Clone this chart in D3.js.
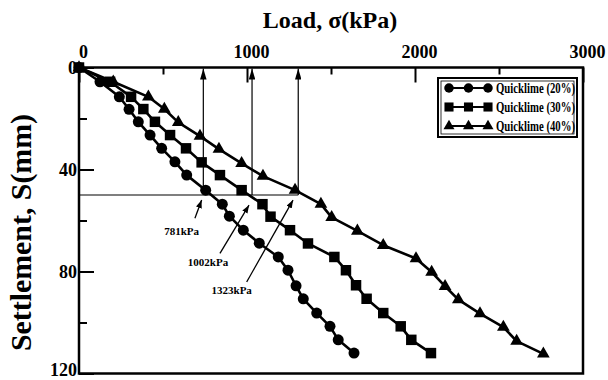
<!DOCTYPE html>
<html><head><meta charset="utf-8">
<script src="https://cdn.jsdelivr.net/npm/d3@7"></script>
<style>
html,body{margin:0;padding:0;background:#fff;}
svg text{font-family:"Liberation Serif","Times New Roman",serif;font-weight:bold;fill:#000;}
</style></head>
<body><svg id="c" width="608" height="380"></svg>
<script>
// ---- data ----
const seriesNames = ["Quicklime (20%)", "Quicklime (30%)", "Quicklime (40%)"];
const load20 = [0,125,240,298,353,423,492,571,641,754,853,895,978,1073,1186,1244,1292,1335,1415,1494,1543,1637];
const settle20 = [0,5.6,11.5,16.4,21.3,26.5,31.7,37.0,42.2,48.1,53.6,58.3,63.8,68.9,74.3,79.5,85.6,90.7,96.3,101.5,106.8,112.0];
const load30 = [0,185,310,383,452,542,637,730,839,968,1092,1140,1256,1363,1520,1589,1649,1712,1811,1915,1978,2095];
const settle30 = [0,5.6,11.5,16.3,21.3,26.5,31.7,37.2,42.2,48.1,53.6,58.5,63.8,69.0,74.3,79.5,85.4,90.7,96.3,101.5,106.8,112.0];
const load40 = [0,204,413,508,591,720,833,968,1095,1286,1440,1504,1657,1811,2006,2099,2179,2258,2387,2526,2605,2764];
const settle40 = [0,5.6,11.5,16.3,21.5,26.9,32.0,37.6,42.6,48.1,53.6,58.8,64.1,69.7,74.9,80.2,85.8,91.0,96.5,101.8,107.3,112.3];
const xMajorTicks = [0,1000,2000,3000];
const xMinorTicks = [500,1500,2500];
const yMajorTicks = [0,40,80,120];
const yMinorTicks = [20,60,100];
// reference lines at S = 50 mm
const refSettlement = 50;
const refLoads = [740, 1030, 1305];
const refLabels = ["781kPa", "1002kPa", "1323kPa"];
const refLabelPos = [[611,64.2],[768,76.3],[909,87.4]];
const refArrowTail = [[690,59.1],[839,72.9],[998,84.1]];
const refArrowTip = [[730,52.0],[1012,54.0],[1274,52.0]];

// ---- layout ----
const svg = d3.select("#c");
const x = d3.scaleLinear().domain([0,3000]).range([79,583]);
const y = d3.scaleLinear().domain([0,120]).range([67.5,373.5]);

// arrow markers
const defs = svg.append("defs");
defs.append("marker").attr("id","ah").attr("viewBox","0 0 10 10").attr("refX",10).attr("refY",5)
  .attr("markerWidth",8).attr("markerHeight",6).attr("orient","auto").attr("markerUnits","userSpaceOnUse")
  .attr("preserveAspectRatio","none")
  .append("path").attr("d","M0,0 L10,5 L0,10 Z").attr("fill","#000");
defs.append("marker").attr("id","ahBig").attr("viewBox","0 0 10 10").attr("refX",10).attr("refY",5)
  .attr("markerWidth",11).attr("markerHeight",6.5).attr("orient","auto").attr("markerUnits","userSpaceOnUse")
  .attr("preserveAspectRatio","none")
  .append("path").attr("d","M0,0 L10,5 L0,10 Z").attr("fill","#000");

// axes
const gTop = svg.append("g").attr("transform",`translate(0,${y(0)})`)
  .call(d3.axisTop(x).tickValues(xMajorTicks).tickSizeInner(-15).tickSizeOuter(0).tickPadding(10).tickFormat(d3.format("d")));
gTop.selectAll("text").attr("font-size",18).attr("dx",4);
gTop.select(".domain").remove();
const gTopMinor = svg.append("g").attr("transform",`translate(0,${y(0)})`)
  .call(d3.axisTop(x).tickValues(xMinorTicks).tickSizeInner(-7).tickSizeOuter(0).tickFormat(""));
gTopMinor.select(".domain").remove();

const gLeft = svg.append("g").attr("transform",`translate(${x(0)},0)`)
  .call(d3.axisLeft(y).tickValues(yMajorTicks).tickSizeInner(-15).tickSizeOuter(0).tickPadding(2));
gLeft.selectAll("text").attr("font-size",18).attr("dy",d => d === 120 ? "0.12em" : "0.32em");
gLeft.select(".domain").remove();
const gLeftMinor = svg.append("g").attr("transform",`translate(${x(0)},0)`)
  .call(d3.axisLeft(y).tickValues(yMinorTicks).tickSizeInner(-8).tickSizeOuter(0).tickFormat(""));
gLeftMinor.select(".domain").remove();
svg.selectAll(".tick line").attr("stroke","#000").attr("stroke-width",2);

// frame
svg.append("rect").attr("x",x(0)).attr("y",y(0)).attr("width",x(3000)-x(0)).attr("height",y(120)-y(0))
  .attr("fill","none").attr("stroke","#000").attr("stroke-width",2.5);

// titles
svg.append("text").attr("x",330).attr("y",28).attr("text-anchor","middle").attr("font-size",24).text("Load, σ(kPa)");
svg.append("text").attr("transform",`translate(31,${(y(0)+y(120))/2 + 12}) rotate(-90)`).attr("text-anchor","middle")
  .attr("font-size",29).attr("textLength",237).attr("lengthAdjust","spacingAndGlyphs").text("Settlement, S(mm)");

// reference lines
svg.append("line").attr("x1",x(0)).attr("x2",x(refLoads[2])).attr("y1",y(refSettlement)).attr("y2",y(refSettlement))
  .attr("stroke","#000").attr("stroke-width",1.2);
refLoads.forEach(L => {
  svg.append("line").attr("x1",x(L)).attr("x2",x(L)).attr("y1",y(refSettlement)).attr("y2",y(0)+1)
    .attr("stroke","#000").attr("stroke-width",1.2).attr("marker-end","url(#ahBig)");
});
refLabels.forEach((t,i) => {
  svg.append("text").attr("x",x(refLabelPos[i][0])).attr("y",y(refLabelPos[i][1])).attr("dy","0.35em")
    .attr("text-anchor","middle").attr("font-size",11).text(t);
  svg.append("line").attr("x1",x(refArrowTail[i][0])).attr("y1",y(refArrowTail[i][1]))
    .attr("x2",x(refArrowTip[i][0])).attr("y2",y(refArrowTip[i][1]))
    .attr("stroke","#000").attr("stroke-width",1.3).attr("marker-end","url(#ah)");
});

// series
const series = [
  {name:seriesNames[0], L:load20, S:settle20, sym:d3.symbolCircle, size:95},
  {name:seriesNames[1], L:load30, S:settle30, sym:d3.symbolSquare, size:110},
  {name:seriesNames[2], L:load40, S:settle40, sym:d3.symbolTriangle, size:70},
];
const line = d3.line().x(d=>x(d[0])).y(d=>y(d[1])).curve(d3.curveLinear);
series.forEach(s => {
  const pts = s.L.map((v,i)=>[v,s.S[i]]);
  svg.append("path").datum(pts).attr("d",line).attr("fill","none").attr("stroke","#000").attr("stroke-width",2.6)
    .attr("stroke-linejoin","round");
  svg.append("g").selectAll("path").data(pts).join("path")
    .attr("transform",d=>`translate(${x(d[0])},${y(d[1])})`)
    .attr("d",d3.symbol().type(s.sym).size(s.size)).attr("fill","#000");
});

// legend
const lg = svg.append("g");
lg.append("rect").attr("x",438).attr("y",78).attr("width",139).attr("height",59).attr("fill","#fff")
  .attr("stroke","#000").attr("stroke-width",2);
lg.append("rect").attr("x",441).attr("y",81).attr("width",133).attr("height",53).attr("fill","none")
  .attr("stroke","#000").attr("stroke-width",0.8);
series.forEach((s,i) => {
  const ry = 88 + i*19;
  lg.append("line").attr("x1",449).attr("x2",488).attr("y1",ry).attr("y2",ry).attr("stroke","#000").attr("stroke-width",2);
  [449,468.5,488].forEach(px => lg.append("path").attr("transform",`translate(${px},${ry})`)
    .attr("d",d3.symbol().type(s.sym).size(s.size*0.75)).attr("fill","#000"));
  lg.append("text").attr("x",496).attr("y",ry).attr("dy","0.35em").attr("font-size",14).attr("font-weight","normal")
    .attr("textLength",79).attr("lengthAdjust","spacingAndGlyphs").text(s.name);
});
</script></body></html>
